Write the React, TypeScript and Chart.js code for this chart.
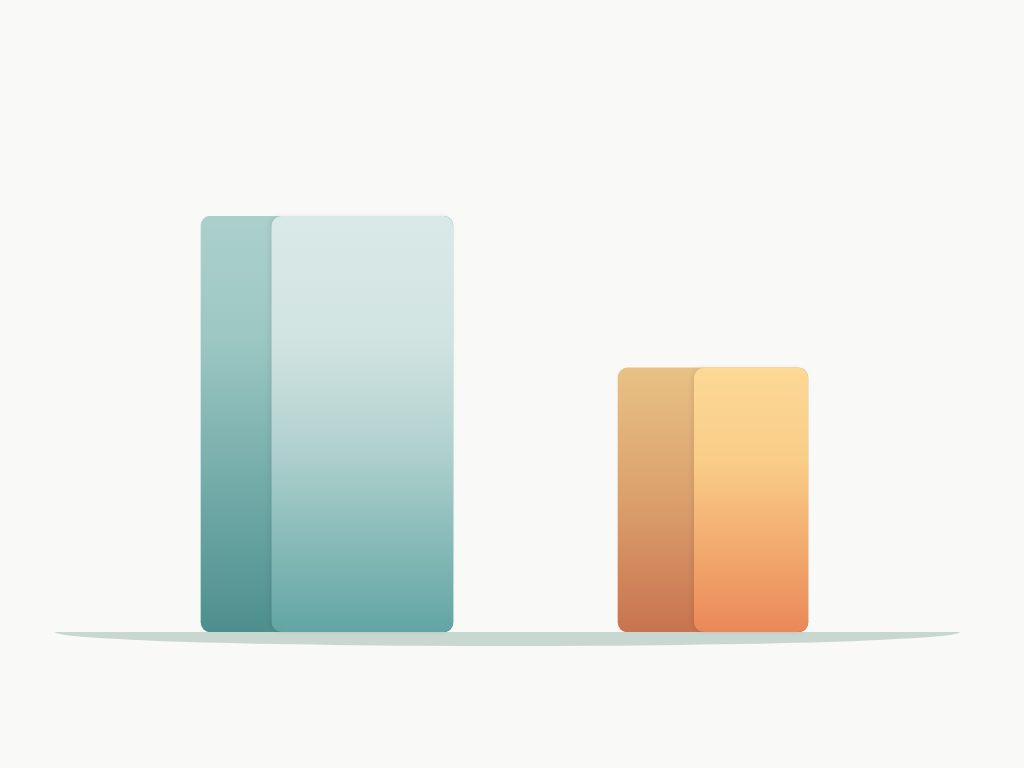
import { useEffect, useRef } from "react";
import { Chart, registerables } from "chart.js";

Chart.register(...registerables);

// two columns, no axis labels in the picture, so values are relative
const categories = ["Teal", "Amber"];
const tealValues = [100, null];
const amberValues = [null, 63.5];

// looks: side panel share of each bar, gradient stops (top -> bottom)
const sideShare = [0.28, 0.4];
const sideStops: [number, string][][] = [
  [[0, "#acd0cc"], [0.3, "#9cc7c3"], [0.75, "#67a3a1"], [1, "#4d8f8e"]],
  [[0, "#e8c185"], [0.5, "#dba06c"], [1, "#c8734f"]]
];
const faceStops: [number, string][][] = [
  [[0, "#d9e9e7"], [0.3, "#d1e3e1"], [0.55, "#b2d2cf"], [0.8, "#84b9b7"], [1, "#62a5a4"]],
  [[0, "#fcd995"], [0.35, "#f9cd88"], [0.7, "#f2a86c"], [1, "#ea8858"]]
];

function vGradient(ctx: CanvasRenderingContext2D, top: number, bottom: number, stops: [number, string][]) {
  const g = ctx.createLinearGradient(0, top, 0, bottom);
  stops.forEach(([at, color]) => g.addColorStop(at, color));
  return g;
}

const groundPlugin = {
  id: "ground",
  beforeDatasetsDraw(chart: any) {
    const { ctx, chartArea } = chart;
    const y = chart.scales.y.getPixelForValue(0);
    const left = chartArea.left - 79;
    const right = chartArea.right + 54;
    ctx.save();
    ctx.fillStyle = "#c9d7d1";
    ctx.beginPath();
    ctx.ellipse((left + right) / 2, y, (right - left) / 2, 14, 0, 0, Math.PI);
    ctx.closePath();
    ctx.fill();
    ctx.restore();
  }
};

const facePlugin = {
  id: "faces",
  afterDatasetsDraw(chart: any) {
    const { ctx } = chart;
    chart.data.datasets.forEach((_: any, di: number) => {
      const meta = chart.getDatasetMeta(di);
      meta.data.forEach((el: any, i: number) => {
        const v = chart.data.datasets[di].data[i];
        if (v == null) return;
        const left = el.x - el.width / 2;
        const right = el.x + el.width / 2;
        const faceLeft = left + el.width * sideShare[di];
        ctx.save();
        ctx.shadowColor = "rgba(0,0,0,0.08)";
        ctx.shadowBlur = 5;
        ctx.shadowOffsetX = -2;
        ctx.fillStyle = vGradient(ctx, el.y, el.base, faceStops[di]);
        ctx.beginPath();
        ctx.roundRect(faceLeft, el.y, right - faceLeft, el.base - el.y, 10);
        ctx.fill();
        ctx.restore();
      });
    });
  }
};

export default function App() {
  const canvasRef = useRef<HTMLCanvasElement | null>(null);

  useEffect(() => {
    if (!canvasRef.current) return;
    document.body.style.margin = "0";

    const sideFill = (di: number) => (c: any) => {
      const area = c.chart.chartArea;
      if (!area) return sideStops[di][1][1];
      const y = c.chart.scales.y;
      const v = c.raw ?? 0;
      return vGradient(c.chart.ctx, y.getPixelForValue(v), y.getPixelForValue(0), sideStops[di]);
    };

    const chart = new Chart(canvasRef.current, {
      type: "bar",
      data: {
        labels: categories,
        datasets: [
          {
            label: categories[0],
            data: tealValues,
            backgroundColor: sideFill(0),
            barThickness: 252
          },
          {
            label: categories[1],
            data: amberValues,
            backgroundColor: sideFill(1),
            barThickness: 190
          }
        ]
      },
      options: {
        responsive: true,
        maintainAspectRatio: false,
        animation: false,
        layout: { padding: { top: 216, bottom: 136, left: 134, right: 118 } },
        datasets: {
          bar: {
            grouped: false,
            borderRadius: 10,
            borderSkipped: false,
            borderWidth: 0
          }
        },
        scales: {
          x: { display: false, offset: true },
          y: { display: false, min: 0, max: 100 }
        },
        plugins: {
          legend: { display: false },
          tooltip: { enabled: false }
        }
      },
      plugins: [groundPlugin, facePlugin]
    });

    return () => chart.destroy();
  }, []);

  return (
    <div style={{ position: "relative", width: 1024, height: 768, background: "#f9f9f7" }}>
      <canvas ref={canvasRef} />
    </div>
  );
}
